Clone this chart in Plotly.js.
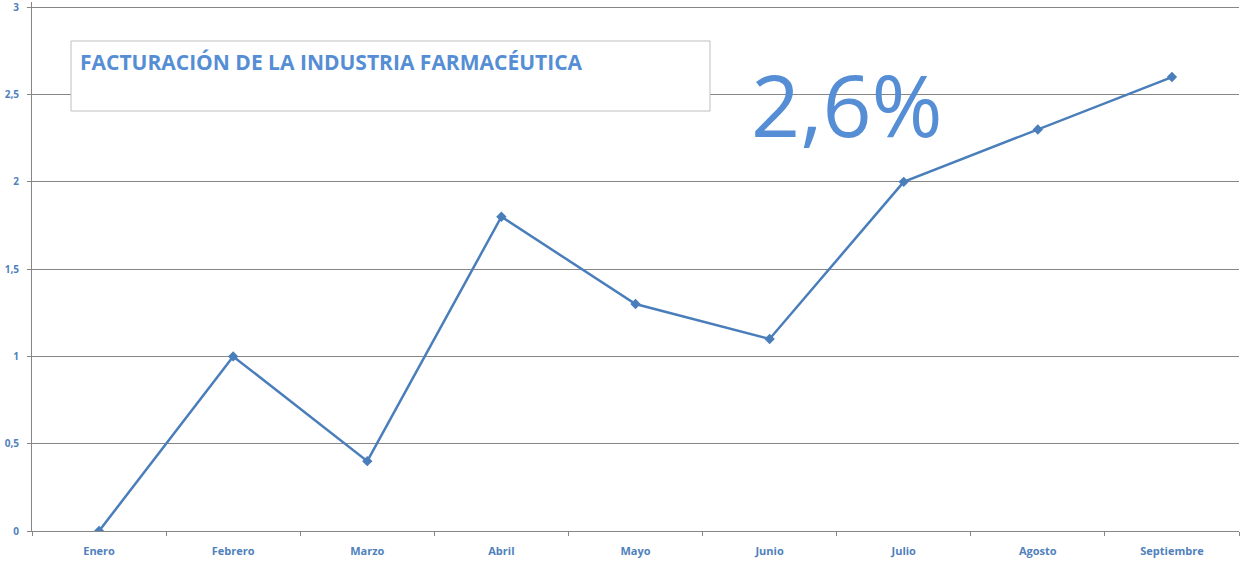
<!DOCTYPE html>
<html>
<head>
<meta charset="utf-8">
<script src="https://cdn.plot.ly/plotly-3.0.1.min.js"></script>
<style>html,body{margin:0;padding:0;background:#fff;}#chart{width:1250px;height:565px;}</style>
</head>
<body>
<div id="chart"></div>
<script>
const months = ["Enero","Febrero","Marzo","Abril","Mayo","Junio","Julio","Agosto","Septiembre"];
const values = [0, 1.0, 0.4, 1.8, 1.3, 1.1, 2.0, 2.3, 2.6];
const yTicks = [0, 0.5, 1, 1.5, 2, 2.5, 3];
const chartTitle = "FACTURACIÓN DE LA INDUSTRIA FARMACÉUTICA";
const bigLabel = "2,6%";

const lineColor = "#4A7EBB";
const textColor = "#4F81BD";

const trace = {
  x: months, y: values, type: "scatter", mode: "lines+markers",
  line: {color: lineColor, width: 2.5},
  marker: {symbol: "diamond", size: 8, color: lineColor},
  hoverinfo: "x+y"
};

// plot area: y 2..531 px, value 3 lands at ~y=7
const yMax = 3.03;
const plotH = 529;
const toPaperY = (py) => (531 - py) / plotH;
const toPaperX = (px) => (px - 32) / 1207;

const layout = {
  width: 1250, height: 565,
  margin: {l: 32, r: 11, t: 2, b: 34},
  paper_bgcolor: "#fff", plot_bgcolor: "#fff",
  separators: ",.",
  showlegend: false,
  font: {family: "Open Sans, Calibri, sans-serif", color: textColor},
  xaxis: {
    type: "category",
    range: [-0.5, months.length - 0.5],
    showgrid: false, zeroline: false,
    showline: true, linecolor: "#868686", linewidth: 1,
    ticks: "outside", ticklen: 4, tickcolor: "#868686",
    tickson: "boundaries",
    tickfont: {size: 11, color: textColor, family: "Open Sans, sans-serif", weight: "bold"},
    ticklabelstandoff: 10
  },
  yaxis: {
    range: [0, yMax],
    tickvals: yTicks,
    showgrid: true, gridcolor: "#868686", gridwidth: 1,
    zeroline: false,
    showline: true, linecolor: "#868686", linewidth: 1,
    ticks: "outside", ticklen: 4, tickcolor: "#868686",
    tickfont: {size: 10, color: textColor, family: "Open Sans, sans-serif", weight: "bold"},
    ticklabelstandoff: 6,
    ticklabeloverflow: "allow"
  },
  shapes: [{
    type: "rect", xref: "paper", yref: "paper",
    x0: toPaperX(71), x1: toPaperX(710),
    y0: toPaperY(111), y1: toPaperY(41),
    line: {color: "#BFBFBF", width: 1}, fillcolor: "#fff", layer: "above"
  }],
  annotations: [
    {
      text: chartTitle, xref: "paper", yref: "paper",
      x: toPaperX(78), y: toPaperY(46), xanchor: "left", yanchor: "top",
      showarrow: false,
      font: {size: 21, color: "#558ED5", family: "Open Sans, sans-serif", weight: "bold"}
    },
    {
      text: bigLabel, xref: "paper", yref: "paper",
      x: toPaperX(847), y: toPaperY(104), xanchor: "center", yanchor: "middle",
      showarrow: false,
      font: {size: 86, color: "#558ED5", family: "Open Sans, sans-serif"}
    }
  ]
};

Plotly.newPlot("chart", [trace], layout, {displayModeBar: false, staticPlot: true});
</script>
</body>
</html>
